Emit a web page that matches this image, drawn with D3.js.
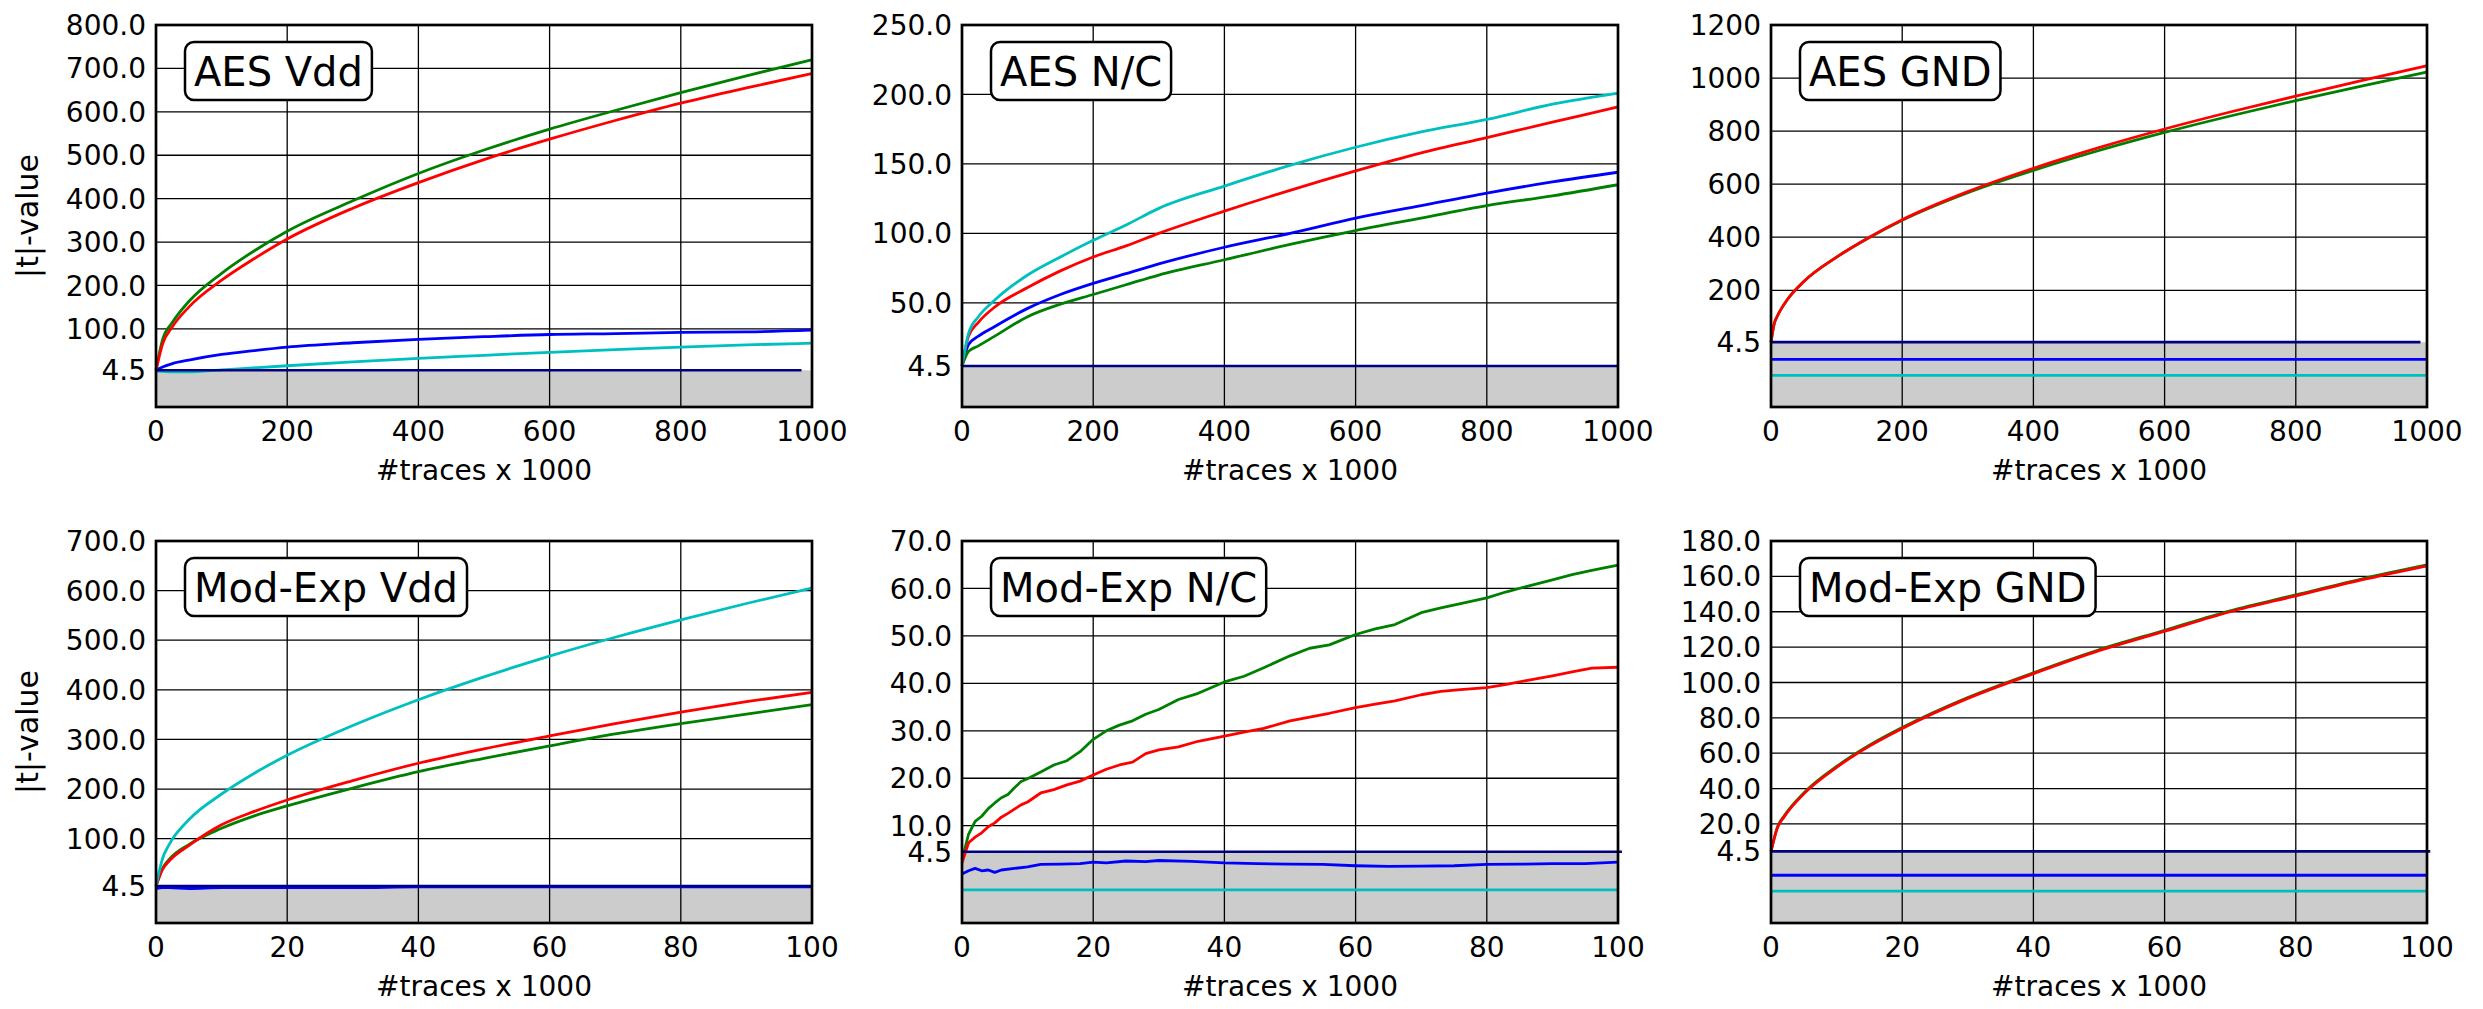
<!DOCTYPE html>
<html>
<head>
<meta charset="utf-8">
<script src="https://cdn.jsdelivr.net/npm/d3@7"></script>
<style>
  body { margin: 0; background: #fff; }
  svg { display: block; font-family: "DejaVu Sans", sans-serif; }
</style>
</head>
<body>
<div id="chart"></div>
<script>
// x positions (thousands of traces)
const xAes = [0, 10, 25, 50, 100, 150, 200, 300, 400, 500, 600, 700, 800, 900, 1000];
const xAesCyan = [0, 25, 50, 100, 200, 300, 400, 500, 600, 700, 800, 900, 1000];
const xAesNC = [0, 10, 25, 50, 100, 150, 200, 250, 300, 400, 500, 600, 700, 800, 900, 1000];
const xAesGnd = [0, 5, 10, 25, 50, 100, 150, 200, 300, 400, 500, 600, 700, 800, 900, 1000];
const xAesFlat = [0, 1000];
const xMod = [0, 1, 2, 5, 10, 15, 20, 30, 40, 50, 60, 70, 80, 90, 100];
const xModFlat = [0, 100];
const xModNC = [0, 1, 2, 3, 4, 5, 6, 7, 8, 9, 10, 12, 14, 16, 18, 20, 22, 24, 26, 28, 30, 33, 36, 40, 43, 46, 50, 53, 56, 60, 63, 66, 70, 73, 76, 80, 83, 86, 90, 93, 96, 100];
const xModNCBlue = [0, 1, 2, 3, 4, 5, 6, 8, 10, 12, 15, 18, 20, 22, 25, 28, 30, 35, 40, 45, 50, 55, 60, 65, 70, 75, 80, 85, 90, 95, 100];

// AES Vdd
const aesVddBlue  = [4.5, 12, 20, 28, 41, 50, 58, 68, 76, 82, 87, 89, 92, 93, 97];
const aesVddGreen = [4.5, 75, 115, 163, 228, 280, 325, 395, 458, 512, 560, 603, 644, 683, 720];
const aesVddRed   = [4.5, 65, 105, 150, 212, 262, 307, 378, 437, 490, 537, 580, 620, 655, 688];
const aesVddCyan  = [4.4, 4.3, 4.3, 5.5, 15, 24, 32, 39, 46, 52, 58, 63, 67];

// AES N/C
const aesNcBlue  = [4.5, 20, 26, 33, 46, 56, 64, 71, 78, 90, 100, 111, 120, 129, 137, 144];
const aesNcGreen = [4.5, 15, 19, 26, 40, 49, 56, 63, 70, 81, 92, 102, 111, 120, 127, 135];
const aesNcRed   = [4.5, 26, 36, 47, 61, 73, 83, 91, 100, 116, 131, 145, 158, 169, 180, 191];
const aesNcCyan  = [4.5, 28, 40, 52, 70, 83, 95, 106, 118, 134, 149, 162, 173, 182, 193, 201];

// AES GND
const aesGndBlue  = [3.3, 3.3];
const aesGndGreen = [4.5, 75, 104, 165, 233, 325, 399, 464, 568, 652, 727, 795, 857, 915, 970, 1023];
const aesGndRed   = [4.5, 75, 104, 165, 233, 325, 400, 466, 572, 660, 738, 808, 872, 932, 990, 1046];
const aesGndCyan  = [2.2, 2.2];

// Mod-Exp Vdd
const modVddBlue  = [4.2, 4.3, 4.3, 4.2, 4.3, 4.3, 4.3, 4.3, 4.4, 4.4, 4.4, 4.4, 4.4, 4.4, 4.4];
const modVddGreen = [4.5, 40, 58, 88, 121, 146, 166, 202, 235, 262, 287, 311, 332, 351, 370];
const modVddRed   = [4.5, 38, 55, 86, 128, 155, 178, 217, 252, 281, 307, 332, 355, 376, 395];
const modVddCyan  = [4.5, 60, 88, 138, 190, 232, 268, 328, 380, 426, 468, 506, 541, 574, 605];

// Mod-Exp N/C
const modNcBlue  = [3.1, 3.3, 3.45, 3.3, 3.35, 3.2, 3.35, 3.45, 3.55, 3.7, 3.72, 3.75, 3.85, 3.8, 3.92, 3.88, 3.95, 3.9, 3.8, 3.75, 3.72, 3.7, 3.62, 3.58, 3.6, 3.62, 3.7, 3.72, 3.75, 3.76, 3.85];
const modNcGreen = [4.0, 8.2, 10.9, 12.0, 13.6, 14.8, 15.9, 16.6, 18.0, 19.3, 19.9, 21.3, 22.8, 23.7, 25.6, 28.2, 30.0, 31.2, 32.1, 33.5, 34.5, 36.6, 37.9, 40.3, 41.5, 43.3, 45.8, 47.4, 48.1, 50.3, 51.5, 52.4, 54.9, 55.9, 56.8, 58.0, 59.3, 60.4, 61.8, 62.9, 63.8, 64.9];
const modNcRed   = [3.8, 6.4, 7.6, 8.5, 9.8, 10.6, 11.8, 12.6, 13.5, 14.4, 15.0, 16.9, 17.6, 18.6, 19.4, 20.7, 21.9, 22.8, 23.4, 25.2, 26.0, 26.6, 27.8, 28.9, 29.7, 30.5, 32.1, 32.9, 33.7, 34.9, 35.6, 36.3, 37.6, 38.3, 38.7, 39.1, 39.8, 40.6, 41.6, 42.4, 43.2, 43.4];
const modNcCyan  = [2.1, 2.1];

// Mod-Exp GND
const modGndBlue  = [3.0, 3.0];
const modGndGreen = [4.5, 18.5, 24.5, 37.5, 52.5, 64.5, 74.5, 91.5, 105.5, 118.5, 129.5, 140.5, 149.5, 158.5, 166.5];
const modGndRed   = [4.5, 18, 24, 37, 52, 64, 74, 91, 105, 118, 129, 140, 149, 158, 166];
const modGndCyan  = [2.0, 2.0];

// ticks
const xTicksAes = [0, 200, 400, 600, 800, 1000];
const xTicksMod = [0, 20, 40, 60, 80, 100];
const yTicksAesVdd = [4.5, 100, 200, 300, 400, 500, 600, 700, 800];
const yTicksAesNc  = [4.5, 50, 100, 150, 200, 250];
const yTicksAesGnd = [4.5, 200, 400, 600, 800, 1000, 1200];
const yTicksModVdd = [4.5, 100, 200, 300, 400, 500, 600, 700];
const yTicksModNc  = [4.5, 10, 20, 30, 40, 50, 60, 70];
const yTicksModGnd = [4.5, 20, 40, 60, 80, 100, 120, 140, 160, 180];

const threshold = 4.5;

const C = { b: "#0000ff", g: "#008000", r: "#ff0000", c: "#00bfbf", navy: "#000080" };

const panels = [
  { title: "AES Vdd", col: 0, row: 0, xMax: 1000, xTicks: xTicksAes, yMax: 800, yFloor: -80, yTicks: yTicksAesVdd, fmt: ".1f", thrEnd: 984, curve: true,
    series: [[xAes, aesVddBlue, C.b], [xAesCyan, aesVddCyan, C.c], [xAes, aesVddGreen, C.g], [xAes, aesVddRed, C.r]] },
  { title: "AES N/C", col: 1, row: 0, xMax: 1000, xTicks: xTicksAes, yMax: 250, yFloor: -25, yTicks: yTicksAesNc, fmt: ".1f", thrEnd: 1000, curve: true,
    series: [[xAesNC, aesNcBlue, C.b], [xAesNC, aesNcGreen, C.g], [xAesNC, aesNcRed, C.r], [xAesNC, aesNcCyan, C.c]] },
  { title: "AES GND", col: 2, row: 0, xMax: 1000, xTicks: xTicksAes, yMax: 1200, yFloor: -240, yTicks: yTicksAesGnd, fmt: "d", thrEnd: 990, curve: true,
    series: [[xAesFlat, aesGndBlue, C.b], [xAesFlat, aesGndCyan, C.c], [xAesGnd, aesGndGreen, C.g], [xAesGnd, aesGndRed, C.r]] },
  { title: "Mod-Exp Vdd", col: 0, row: 1, xMax: 100, xTicks: xTicksMod, yMax: 700, yFloor: -70, yTicks: yTicksModVdd, fmt: ".1f", thrEnd: 100, curve: true,
    series: [[xMod, modVddGreen, C.g], [xMod, modVddRed, C.r], [xMod, modVddCyan, C.c], [xMod, modVddBlue, C.b]] },
  { title: "Mod-Exp N/C", col: 1, row: 1, xMax: 100, xTicks: xTicksMod, yMax: 70, yFloor: -10.5, yTicks: yTicksModNc, fmt: ".1f", thrEnd: 100.6, curve: false,
    series: [[xModNCBlue, modNcBlue, C.b], [xModFlat, modNcCyan, C.c], [xModNC, modNcGreen, C.g], [xModNC, modNcRed, C.r]] },
  { title: "Mod-Exp GND", col: 2, row: 1, xMax: 100, xTicks: xTicksMod, yMax: 180, yFloor: -36, yTicks: yTicksModGnd, fmt: ".1f", thrEnd: 100.5, curve: true,
    series: [[xModFlat, modGndBlue, C.b], [xModFlat, modGndCyan, C.c], [xMod, modGndGreen, C.g], [xMod, modGndRed, C.r]] }
];

const width = 2483, height = 1009;
const colX = [156, 962, 1771], rowY = [25, 541];
const pw = 656, ph = 382;
const tickSize = 28;

const svg = d3.select("#chart").append("svg")
  .attr("width", width)
  .attr("height", height);

panels.forEach(p => {
  const g = svg.append("g")
    .attr("transform", `translate(${colX[p.col]},${rowY[p.row]})`);

  const x = d3.scaleLinear().domain([0, p.xMax]).range([0, pw]);
  // linear part above the threshold, squeezed band 0..4.5 below it
  const yLin = d3.scaleLinear().domain([p.yFloor, p.yMax]).range([ph, 0]);
  const y = d3.scaleLinear().domain([0, threshold, p.yMax]).range([ph, yLin(threshold), 0]);

  // gray band below threshold
  g.append("rect")
    .attr("x", 0).attr("y", y(threshold))
    .attr("width", pw).attr("height", ph - y(threshold))
    .attr("fill", "#cccccc");

  // grid
  g.selectAll(".vgrid").data(p.xTicks.slice(1, -1)).enter().append("line")
    .attr("x1", d => x(d)).attr("x2", d => x(d))
    .attr("y1", 0).attr("y2", ph)
    .attr("stroke", "#000").attr("stroke-width", 1.3);
  g.selectAll(".hgrid").data(p.yTicks.filter(d => d !== threshold && d !== p.yMax)).enter().append("line")
    .attr("x1", 0).attr("x2", pw)
    .attr("y1", d => y(d)).attr("y2", d => y(d))
    .attr("stroke", "#000").attr("stroke-width", 1.3);

  // series
  const line = d3.line()
    .x(d => x(d[0]))
    .y(d => y(d[1]))
    .curve(p.curve ? d3.curveMonotoneX : d3.curveLinear);

  p.series.forEach(([xs, ys, color]) => {
    const pts = xs.map((v, i) => [v, ys[i]]);
    g.append("path")
      .datum(pts)
      .attr("fill", "none")
      .attr("stroke", color)
      .attr("stroke-width", 2.8)
      .attr("stroke-linejoin", "round")
      .attr("d", line);
  });

  // threshold line
  g.append("line")
    .attr("x1", x(0)).attr("x2", x(p.thrEnd))
    .attr("y1", y(threshold)).attr("y2", y(threshold))
    .attr("stroke", C.navy).attr("stroke-width", 2.6);

  // frame
  g.append("rect")
    .attr("x", 0).attr("y", 0).attr("width", pw).attr("height", ph)
    .attr("fill", "none").attr("stroke", "#000").attr("stroke-width", 2.7);

  // y tick labels
  const fmt = d3.format(p.fmt);
  g.selectAll(".ytl").data(p.yTicks).enter().append("text")
    .attr("x", -10).attr("y", d => y(d))
    .attr("dy", "0.36em")
    .attr("text-anchor", "end")
    .attr("font-size", tickSize)
    .text(d => d === threshold ? "4.5" : fmt(d));

  // x tick labels
  g.selectAll(".xtl").data(p.xTicks).enter().append("text")
    .attr("x", d => x(d)).attr("y", ph + 34)
    .attr("text-anchor", "middle")
    .attr("font-size", tickSize)
    .text(d => d);

  // x label
  g.append("text")
    .attr("x", pw / 2).attr("y", ph + 73)
    .attr("text-anchor", "middle")
    .attr("font-size", tickSize)
    .text("#traces x 1000");

  // y label on left column
  if (p.col === 0) {
    svg.append("text")
      .attr("transform", `translate(38,${rowY[p.row] + ph / 2}) rotate(-90)`)
      .attr("text-anchor", "middle")
      .attr("font-size", 30)
      .text("|t|-value");
  }

  // title box
  const tb = g.append("g").attr("transform", "translate(29,17)");
  const rect = tb.append("rect")
    .attr("height", 58).attr("rx", 9).attr("ry", 9)
    .attr("fill", "#fff").attr("stroke", "#000").attr("stroke-width", 2.5);
  const t = tb.append("text")
    .attr("x", 9).attr("y", 43.5)
    .attr("font-size", 40)
    .text(p.title);
  rect.attr("width", t.node().getComputedTextLength() + 18);
});
</script>
</body>
</html>
